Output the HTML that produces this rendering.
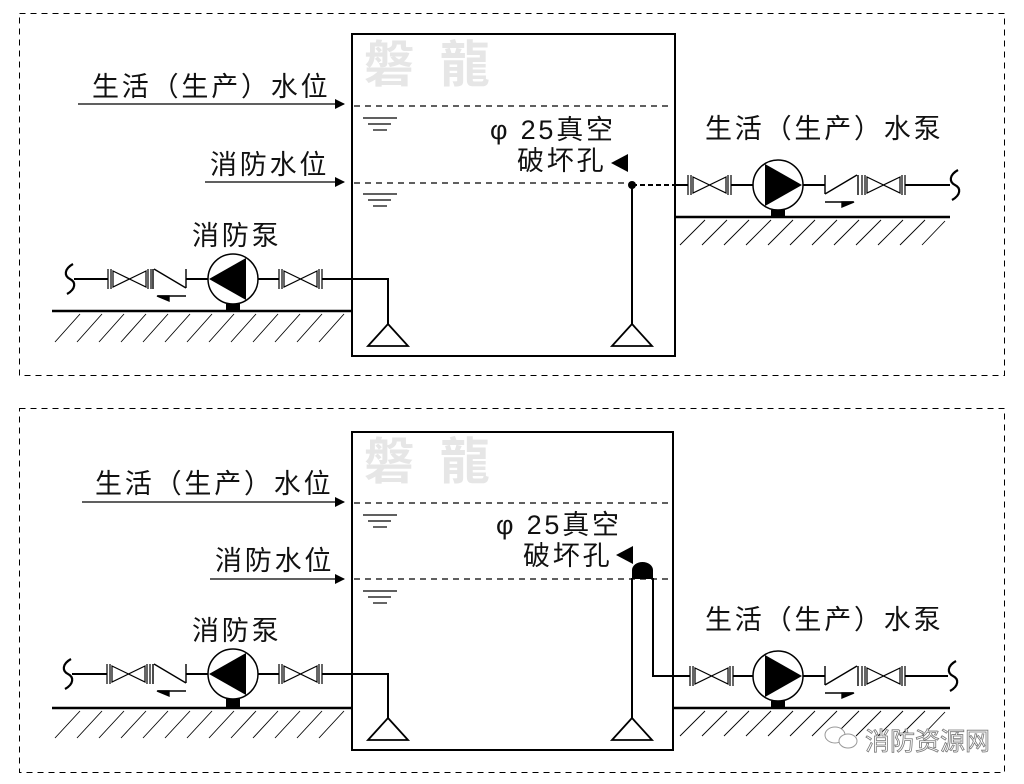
<!DOCTYPE html>
<html><head><meta charset="utf-8"><style>
html,body{margin:0;padding:0;background:#fff;}
svg{display:block}
text{font-family:"Liberation Sans","Noto Sans CJK SC",sans-serif;fill:#111;}
.l{font-size:27px;letter-spacing:2.8px}
</style></head><body>
<svg width="1024" height="784" viewBox="0 0 1024 784" xmlns="http://www.w3.org/2000/svg">
<defs>
<g id="valve" stroke="#000" stroke-width="1.2" fill="none">
<line x1="0" y1="-10" x2="0" y2="10"/><line x1="3" y1="-10" x2="3" y2="10"/>
<line x1="40" y1="-10" x2="40" y2="10"/><line x1="43" y1="-10" x2="43" y2="10"/>
<polygon points="5,-8 21.5,0 5,8"/><polygon points="38,-8 21.5,0 38,8"/>
</g>
<g id="checkL" stroke="#000" stroke-width="1.4" fill="none">
<line x1="0" y1="-10" x2="0" y2="10"/>
<line x1="1" y1="-10" x2="33" y2="9"/><line x1="33" y1="-10" x2="33" y2="9"/>
<line x1="5" y1="17" x2="33" y2="17"/>
<polygon points="4,17 16,17 16,22" fill="#000"/>
</g>
<g id="pumpL">
<circle cx="0" cy="0" r="25" fill="#fff" stroke="#000" stroke-width="1.5"/>
<polygon points="-24,0 13,-21 13,21" fill="#000"/>
<rect x="-7" y="25" width="14" height="8" fill="#000"/>
</g>
<g id="tilde"><path d="M3,-15 C-6,-10 -6,-3 0,0 C6,3 6,10 -3,15" stroke="#000" stroke-width="2.2" fill="none"/></g>
<g id="wl" stroke="#000" stroke-width="1.2"><line x1="0" y1="0" x2="34" y2="0"/><line x1="5" y1="6" x2="28" y2="6"/><line x1="10" y1="12" x2="24" y2="12"/></g>
<g id="foot"><polygon points="0,0 -20,22 20,22" fill="#fff" stroke="#000" stroke-width="1.8"/></g>
<marker id="ar" markerWidth="10" markerHeight="10" refX="9" refY="5" orient="auto" markerUnits="userSpaceOnUse"><polygon points="0,0 10,5 0,10" fill="#000"/></marker>
</defs>

<rect x="19.5" y="13.5" width="985" height="362" fill="none" stroke="#000" stroke-width="1" stroke-dasharray="6,5"/>
<rect x="19.5" y="408.5" width="985" height="364" fill="none" stroke="#000" stroke-width="1" stroke-dasharray="6,5"/>

<!-- ===== TOP PANEL ===== -->
<text x="364" y="82" font-size="50" font-weight="bold" letter-spacing="6" style="fill:#e6e6e6">磐 龍</text>
<rect x="352" y="34" width="323" height="322" fill="none" stroke="#000" stroke-width="2"/>
<line x1="354" y1="106" x2="673" y2="106" stroke="#000" stroke-dasharray="6,5" stroke-width="1.2"/>
<line x1="354" y1="183" x2="632" y2="183" stroke="#000" stroke-dasharray="6,5" stroke-width="1.2"/>
<use href="#wl" x="363" y="118"/><use href="#wl" x="363" y="194"/>
<text class="l" x="92" y="96">生活（生产）水位</text>
<line x1="78" y1="104" x2="344" y2="104" stroke="#000" stroke-width="1.3" marker-end="url(#ar)"/>
<text class="l" x="210" y="174">消防水位</text>
<line x1="205" y1="182" x2="344" y2="182" stroke="#000" stroke-width="1.3" marker-end="url(#ar)"/>
<text class="l" x="490" y="139">φ 25真空</text>
<text class="l" x="517" y="170">破坏孔</text>
<polygon points="611,163 628,154 628,172" fill="#000"/>
<circle cx="632" cy="185" r="4" fill="#000"/>
<line x1="632" y1="185" x2="632" y2="324" stroke="#000" stroke-width="2"/>
<use href="#foot" x="632" y="324"/>
<line x1="632" y1="185" x2="675" y2="185" stroke="#000" stroke-width="2" stroke-dasharray="5,3"/>
<line x1="675" y1="185" x2="688" y2="185" stroke="#000" stroke-width="2"/>
<use href="#valve" x="688" y="185"/>
<line x1="731" y1="185" x2="753" y2="185" stroke="#000" stroke-width="2"/>
<use href="#pumpL" transform="translate(778,185) scale(-1,1)"/>
<line x1="803" y1="185" x2="825" y2="185" stroke="#000" stroke-width="2"/>
<use href="#checkL" transform="translate(858,185) scale(-1,1)"/>
<use href="#valve" x="862" y="185"/>
<line x1="905" y1="185" x2="950" y2="185" stroke="#000" stroke-width="2"/>
<use href="#tilde" x="955" y="185"/>
<text class="l" x="705" y="138">生活（生产）水泵</text>
<line x1="675" y1="217" x2="950" y2="217" stroke="#000" stroke-width="2.5"/>
<g stroke="#000" stroke-width="0.9">
<line x1="680" y1="245" x2="705" y2="220"/><line x1="702" y1="245" x2="727" y2="220"/><line x1="724" y1="245" x2="749" y2="220"/><line x1="746" y1="245" x2="771" y2="220"/><line x1="768" y1="245" x2="793" y2="220"/><line x1="790" y1="245" x2="815" y2="220"/><line x1="812" y1="245" x2="837" y2="220"/><line x1="834" y1="245" x2="859" y2="220"/><line x1="856" y1="245" x2="881" y2="220"/><line x1="878" y1="245" x2="903" y2="220"/><line x1="900" y1="245" x2="925" y2="220"/><line x1="922" y1="245" x2="945" y2="221"/>
</g>
<text class="l" x="192" y="245">消防泵</text>
<use href="#tilde" x="70" y="279"/>
<line x1="74" y1="279" x2="108" y2="279" stroke="#000" stroke-width="2"/>
<use href="#valve" x="108" y="279"/>
<use href="#checkL" x="153" y="279"/>
<line x1="186" y1="279" x2="208" y2="279" stroke="#000" stroke-width="2"/>
<use href="#pumpL" x="233" y="279"/>
<line x1="258" y1="279" x2="279" y2="279" stroke="#000" stroke-width="2"/>
<use href="#valve" x="279" y="279"/>
<polyline points="322,279 388,279 388,324" fill="none" stroke="#000" stroke-width="2"/>
<use href="#foot" x="388" y="324"/>
<line x1="52" y1="311" x2="352" y2="311" stroke="#000" stroke-width="2.5"/>
<g stroke="#000" stroke-width="0.9">
<line x1="55" y1="342" x2="80" y2="314"/><line x1="77" y1="342" x2="102" y2="314"/><line x1="99" y1="342" x2="124" y2="314"/><line x1="121" y1="342" x2="146" y2="314"/><line x1="143" y1="342" x2="168" y2="314"/><line x1="165" y1="342" x2="190" y2="314"/><line x1="187" y1="342" x2="212" y2="314"/><line x1="209" y1="342" x2="234" y2="314"/><line x1="231" y1="342" x2="256" y2="314"/><line x1="253" y1="342" x2="278" y2="314"/><line x1="275" y1="342" x2="300" y2="314"/><line x1="297" y1="342" x2="322" y2="314"/><line x1="319" y1="342" x2="344" y2="314"/>
</g>

<!-- ===== BOTTOM PANEL ===== -->
<text x="364" y="479" font-size="50" font-weight="bold" letter-spacing="6" style="fill:#e6e6e6">磐 龍</text>
<rect x="352" y="432" width="321" height="318" fill="none" stroke="#000" stroke-width="2"/>
<line x1="354" y1="503" x2="671" y2="503" stroke="#000" stroke-dasharray="6,5" stroke-width="1.2"/>
<line x1="354" y1="579" x2="671" y2="579" stroke="#000" stroke-dasharray="6,5" stroke-width="1.2"/>
<use href="#wl" x="363" y="515"/><use href="#wl" x="363" y="591"/>
<text class="l" x="95" y="493">生活（生产）水位</text>
<line x1="82" y1="502" x2="344" y2="502" stroke="#000" stroke-width="1.3" marker-end="url(#ar)"/>
<text class="l" x="215" y="570">消防水位</text>
<line x1="210" y1="579" x2="344" y2="579" stroke="#000" stroke-width="1.3" marker-end="url(#ar)"/>
<text class="l" x="496" y="534">φ 25真空</text>
<text class="l" x="523" y="565">破坏孔</text>
<polygon points="616,555 633,546 633,564" fill="#000"/>
<path d="M632,579 L632,570 A10.5,8 0 0 1 653,570 L653,579 Z" fill="#000"/>
<line x1="632" y1="578" x2="632" y2="718" stroke="#000" stroke-width="2"/>
<use href="#foot" x="632" y="718"/>
<polyline points="653,578 653,676 690,676" fill="none" stroke="#000" stroke-width="2"/>
<use href="#valve" x="690" y="676"/>
<line x1="733" y1="676" x2="753" y2="676" stroke="#000" stroke-width="2"/>
<use href="#pumpL" transform="translate(778,676) scale(-1,1)"/>
<line x1="803" y1="676" x2="825" y2="676" stroke="#000" stroke-width="2"/>
<use href="#checkL" transform="translate(858,676) scale(-1,1)"/>
<use href="#valve" x="862" y="676"/>
<line x1="905" y1="676" x2="948" y2="676" stroke="#000" stroke-width="2"/>
<use href="#tilde" x="953" y="676"/>
<text class="l" x="705" y="629">生活（生产）水泵</text>
<line x1="673" y1="708" x2="950" y2="708" stroke="#000" stroke-width="2.5"/>
<g stroke="#000" stroke-width="0.9">
<line x1="680" y1="736" x2="705" y2="711"/><line x1="702" y1="736" x2="727" y2="711"/><line x1="724" y1="736" x2="749" y2="711"/><line x1="746" y1="736" x2="771" y2="711"/><line x1="768" y1="736" x2="793" y2="711"/><line x1="790" y1="736" x2="815" y2="711"/><line x1="812" y1="736" x2="837" y2="711"/><line x1="834" y1="736" x2="859" y2="711"/><line x1="856" y1="736" x2="881" y2="711"/><line x1="878" y1="736" x2="903" y2="711"/><line x1="900" y1="736" x2="925" y2="711"/><line x1="922" y1="736" x2="945" y2="712"/>
</g>
<text class="l" x="192" y="640">消防泵</text>
<use href="#tilde" x="68" y="674"/>
<line x1="72" y1="674" x2="107" y2="674" stroke="#000" stroke-width="2"/>
<use href="#valve" x="107" y="674"/>
<use href="#checkL" x="153" y="674"/>
<line x1="186" y1="674" x2="208" y2="674" stroke="#000" stroke-width="2"/>
<use href="#pumpL" x="233" y="674"/>
<line x1="258" y1="674" x2="279" y2="674" stroke="#000" stroke-width="2"/>
<use href="#valve" x="279" y="674"/>
<polyline points="322,674 388,674 388,718" fill="none" stroke="#000" stroke-width="2"/>
<use href="#foot" x="388" y="718"/>
<line x1="52" y1="708" x2="352" y2="708" stroke="#000" stroke-width="2.5"/>
<g stroke="#000" stroke-width="0.9">
<line x1="55" y1="738" x2="80" y2="711"/><line x1="77" y1="738" x2="102" y2="711"/><line x1="99" y1="738" x2="124" y2="711"/><line x1="121" y1="738" x2="146" y2="711"/><line x1="143" y1="738" x2="168" y2="711"/><line x1="165" y1="738" x2="190" y2="711"/><line x1="187" y1="738" x2="212" y2="711"/><line x1="209" y1="738" x2="234" y2="711"/><line x1="231" y1="738" x2="256" y2="711"/><line x1="253" y1="738" x2="278" y2="711"/><line x1="275" y1="738" x2="300" y2="711"/><line x1="297" y1="738" x2="322" y2="711"/><line x1="319" y1="738" x2="344" y2="711"/>
</g>
<g fill="#fff" stroke="#999" stroke-width="1">
<ellipse cx="835" cy="735" rx="10" ry="8"/><ellipse cx="848" cy="741" rx="9" ry="7"/>
</g>
<text x="865" y="750" font-size="25" style="fill:#fff;stroke:#777;stroke-width:0.8">消防资源网</text>
</svg>
</body></html>
